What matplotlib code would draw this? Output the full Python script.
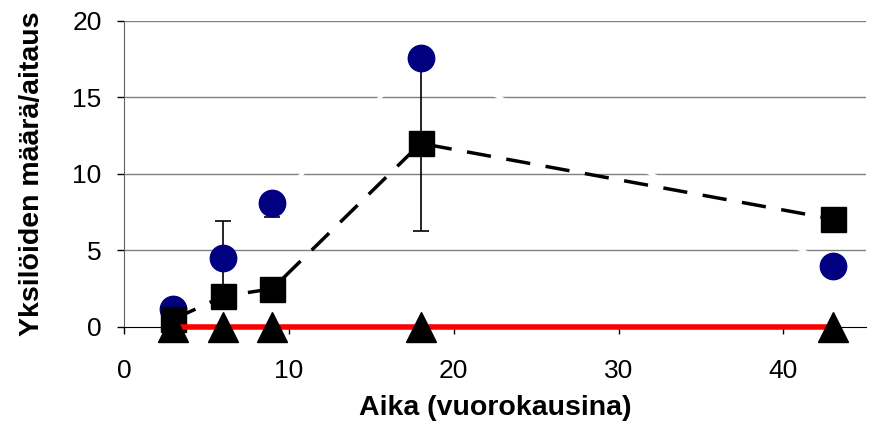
import matplotlib.pyplot as plt

plt.rcParams['font.family'] = ['Liberation Sans', 'DejaVu Sans']

# päivät ja yksilömäärät
paivat = [3, 6, 9, 18, 43]
ympyrat = [1.2, 4.5, 8.1, 17.6, 4.0]
ympyrat_ala = [0.0, 2.4, 0.9, 0.0, 0.0]
ympyrat_yla = [0.0, 2.4, 0.0, 0.0, 0.0]
neliot = [0.5, 2.0, 2.5, 12.0, 7.05]
neliot_virhe = [0.0, 0.0, 0.0, 5.7, 0.0]
kolmiot = [0, 0, 0, 0, 0]

fig = plt.figure(figsize=(8.79, 4.28), dpi=100)
ax = fig.add_axes([0.141, 0.236, 0.844, 0.715])

# vaakasuorat apuviivat
for yv in [5, 10, 15, 20]:
    ax.axhline(yv, color='#808080', lw=1.0, zorder=1)

# ympyrät (valkoinen yhdysviiva)
ax.plot(paivat, ympyrat, color='white', lw=2.5, zorder=2)
ax.errorbar(paivat, ympyrat, yerr=[ympyrat_ala, ympyrat_yla], fmt='none',
            ecolor='black', elinewidth=1.2, capsize=6, capthick=1.2, zorder=3)
ax.errorbar(paivat, neliot, yerr=neliot_virhe, fmt='none', ecolor='black',
            elinewidth=1.2, capsize=6, capthick=1.2, zorder=3)
ax.plot(paivat, ympyrat, 'o', color='#000080', ms=19, mec='#000080',
        zorder=4, clip_on=False)

# neliöt
ax.plot(paivat, neliot, color='black', lw=2.5, ls=(0, (7, 4.5)), zorder=5)
ax.plot(paivat, neliot, 's', color='black', ms=18, zorder=6, clip_on=False)

# kolmiot
ax.plot(paivat, kolmiot, color='#ff0000', lw=4, zorder=7, clip_on=False)
ax.plot(paivat, kolmiot, '^', color='black', ms=21, zorder=8, clip_on=False)

ax.set_xlim(0, 45)
ax.set_ylim(0, 20)
ax.set_xticks([0, 10, 20, 30, 40])
ax.set_yticks([0, 5, 10, 15, 20])
ax.spines['top'].set_visible(False)
ax.spines['right'].set_visible(False)
ax.spines['left'].set_color('#606060')
ax.spines['bottom'].set_color('black')
ax.tick_params(direction='out', length=5, width=1, labelsize=19)
ax.tick_params(axis='x', pad=18)
ax.tick_params(axis='y', pad=11)
ax.set_xlabel('Aika (vuorokausina)', fontsize=20.5, fontweight='bold', labelpad=9)
ax.set_ylabel('Yksilöiden määrä/aitaus', fontsize=20.5, fontweight='bold', labelpad=20)

fig.savefig('out.png', dpi=100)
